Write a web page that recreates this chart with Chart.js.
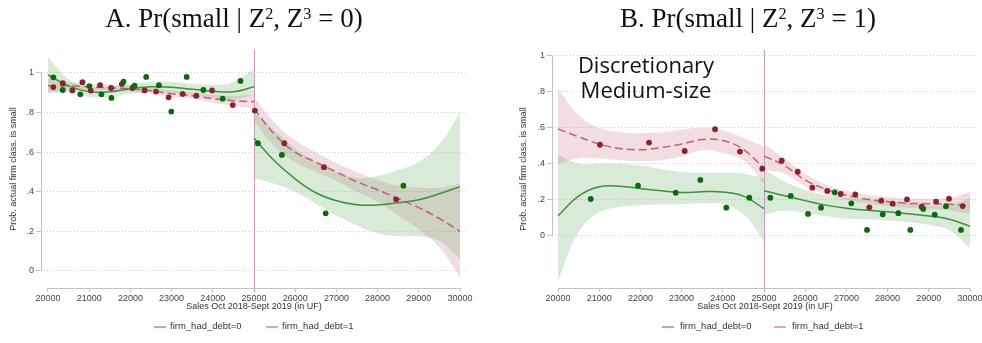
<!DOCTYPE html>
<html><head><meta charset="utf-8">
<script src="https://cdn.jsdelivr.net/npm/chart.js@4.4.1/dist/chart.umd.min.js"></script>
<style>
html,body{margin:0;padding:0;background:#fff;}
body{width:982px;height:343px;position:relative;overflow:hidden;font-family:"Liberation Sans",Arial,sans-serif;}
canvas{position:absolute;top:0;}
#cA{left:0;}
#cB{left:490px;}
.ttl{position:absolute;top:3px;height:30px;line-height:30px;font-family:"Liberation Serif","DejaVu Serif",serif;font-size:27px;color:#111;white-space:nowrap;transform:translateX(-50%);}
.ttl sup{font-size:0.6em;line-height:0;vertical-align:0.5em;}
.note{position:absolute;left:646px;top:52px;transform:translateX(-50%);font-family:"Open Sans","Noto Sans",sans-serif;font-size:22px;line-height:25px;color:#111;text-align:center;white-space:nowrap;}
.leg{position:absolute;top:320px;height:12px;line-height:12px;font-size:9.5px;color:#333;white-space:nowrap;}
.key{position:absolute;top:326px;height:2px;width:12px;}
</style>
</head>
<body>
<canvas id="cA" width="490" height="343"></canvas>
<canvas id="cB" width="492" height="343"></canvas>
<div class="ttl" style="left:234px">A. Pr(small | Z<sup>2</sup>, Z<sup>3</sup> = 0)</div>
<div class="ttl" style="left:748px">B. Pr(small | Z<sup>2</sup>, Z<sup>3</sup> = 1)</div>
<div class="note">Discretionary<br>Medium-size</div>
<div class="key" style="left:154px;background:#93c493"></div><div class="leg" style="left:170px">firm_had_debt=0</div>
<div class="key" style="left:266px;background:#deaab2"></div><div class="leg" style="left:282px">firm_had_debt=1</div>
<div class="key" style="left:662px;background:#93c493"></div><div class="leg" style="left:680px">firm_had_debt=0</div>
<div class="key" style="left:774px;background:#deaab2"></div><div class="leg" style="left:792px">firm_had_debt=1</div>
<script>
// ---------- shared axes ----------
const xTicks = [20000,21000,22000,23000,24000,25000,26000,27000,28000,29000,30000];
const yTicks = [0,0.2,0.4,0.6,0.8,1];
const yTickLabels = ['0','.2','.4','.6','.8','1'];
const cutoff = 25000;
const xTitle = 'Sales Oct 2018-Sept 2019 (in UF)';
const yTitle = 'Prob. actual firm class. is small';
const seriesNames = ['firm_had_debt=0','firm_had_debt=1'];

// fit grids (left and right of cutoff)
const gridL = [20000,20500,21000,21500,22000,22500,23000,23500,24000,24500,25000];
const gridR = [25000,25500,26000,26500,27000,27500,28000,28500,29000,29500,30000];

// ---------- Panel A: Z3 = 0 ----------
const aGreenX = [20129,20357,20786,21005,21297,21540,21832,22100,22384,22693,22993,23365,23771,24241,24672,25093,25676,26740,28626];
const aGreenY = [0.978,0.914,0.892,0.934,0.892,0.874,0.956,0.936,0.980,0.938,0.805,0.980,0.914,0.870,0.960,0.645,0.586,0.291,0.431];
const aRedX = [20129,20357,20591,20835,21038,21265,21533,21792,22051,22344,22620,22928,23268,23601,23983,24484,25020,25735,26699,28450];
const aRedY = [0.929,0.948,0.912,0.953,0.911,0.939,0.924,0.944,0.924,0.912,0.906,0.877,0.894,0.885,0.912,0.838,0.810,0.645,0.524,0.362];

const aGreenFitL = [0.99,0.935,0.905,0.905,0.92,0.93,0.928,0.918,0.908,0.905,0.93];
const aGreenUpL  = [1.08,0.97,0.93,0.93,0.945,0.955,0.955,0.945,0.94,0.955,1.02];
const aGreenLoL  = [0.90,0.90,0.88,0.88,0.895,0.905,0.90,0.89,0.875,0.865,0.89];
const aRedFitL = [0.935,0.935,0.93,0.925,0.92,0.91,0.895,0.885,0.87,0.86,0.855];
const aRedUpL  = [0.97,0.955,0.945,0.94,0.935,0.925,0.91,0.90,0.89,0.885,0.89];
const aRedLoL  = [0.90,0.915,0.915,0.91,0.905,0.895,0.88,0.87,0.85,0.835,0.82];

const aGreenFitR = [0.67,0.555,0.465,0.395,0.355,0.335,0.333,0.345,0.36,0.39,0.426];
const aGreenUpR  = [0.80,0.71,0.62,0.55,0.50,0.47,0.48,0.51,0.55,0.64,0.80];
const aGreenLoR  = [0.47,0.44,0.40,0.34,0.28,0.23,0.19,0.175,0.175,0.15,0.06];
const aRedFitR = [0.82,0.69,0.60,0.55,0.50,0.45,0.41,0.365,0.32,0.265,0.20];
const aRedUpR  = [0.88,0.75,0.66,0.60,0.545,0.50,0.46,0.43,0.42,0.42,0.44];
const aRedLoR  = [0.755,0.63,0.55,0.50,0.455,0.40,0.35,0.28,0.21,0.12,-0.03];

// ---------- Panel B: Z3 = 1 ----------
const bGreenX = [20794,21942,22857,23455,24085,24644,25153,25648,26068,26384,26716,27120,27500,27881,28260,28551,28866,29143,29417,29782];
const bGreenY = [0.204,0.278,0.239,0.310,0.156,0.211,0.211,0.221,0.121,0.156,0.241,0.180,0.032,0.119,0.125,0.032,0.149,0.117,0.164,0.032];
const bRedX = [21019,22209,23075,23811,24417,24959,25430,25818,26172,26536,26861,27216,27556,27847,28124,28471,28828,29175,29490,29823];
const bRedY = [0.506,0.518,0.471,0.592,0.468,0.373,0.417,0.356,0.267,0.249,0.232,0.230,0.158,0.195,0.178,0.202,0.161,0.189,0.206,0.165];

const bGreenFitL = [0.111,0.22,0.272,0.275,0.262,0.25,0.24,0.245,0.243,0.22,0.15];
const bGreenUpL  = [0.45,0.40,0.40,0.40,0.39,0.37,0.355,0.35,0.35,0.345,0.32];
const bGreenLoL  = [-0.25,0.02,0.13,0.16,0.17,0.175,0.175,0.18,0.175,0.12,-0.03];
const bRedFitL = [0.594,0.55,0.51,0.485,0.478,0.49,0.51,0.535,0.53,0.48,0.375];
const bRedUpL  = [0.82,0.67,0.60,0.575,0.57,0.575,0.59,0.60,0.585,0.545,0.495];
const bRedLoL  = [0.40,0.43,0.43,0.42,0.415,0.42,0.44,0.475,0.46,0.42,0.29];

const bGreenFitR = [0.25,0.222,0.195,0.17,0.152,0.142,0.133,0.122,0.11,0.092,0.052];
const bGreenUpR  = [0.37,0.30,0.255,0.225,0.21,0.20,0.19,0.18,0.17,0.17,0.21];
const bGreenLoR  = [0.115,0.14,0.125,0.11,0.095,0.09,0.085,0.075,0.06,0.03,-0.07];
const bRedFitR = [0.443,0.39,0.31,0.258,0.225,0.203,0.19,0.18,0.178,0.175,0.165];
const bRedUpR  = [0.51,0.43,0.345,0.285,0.25,0.228,0.215,0.205,0.205,0.21,0.245];
const bRedLoR  = [0.365,0.345,0.275,0.23,0.20,0.18,0.165,0.155,0.15,0.14,0.12];

// ---------- styles ----------
const C = {
  gPt:'#0b6a0b', rPt:'#8c2232',
  gLine:'#3f8f3f', rLine:'#b9646f',
  gBand:'rgba(80,160,80,0.22)', rBand:'rgba(190,90,110,0.20)',
  axis:'#c2c2c2', grid:'#d2d2d2', cut:'#e08ad6', tick:'#444'
};
const pts = (xs, ys) => xs.map((x,i)=>({x:x, y:ys[i]}));

function band(xs, up, lo, color){
  return [
    {data:pts(xs,up), borderWidth:0, borderColor:'rgba(0,0,0,0)', pointRadius:0, tension:0.4, fill:'+1', backgroundColor:color, order:3},
    {data:pts(xs,lo), borderWidth:0, borderColor:'rgba(0,0,0,0)', pointRadius:0, tension:0.4, fill:false, order:3}
  ];
}
function fit(xs, ys, color, dash){
  return {data:pts(xs,ys), borderColor:color, borderWidth:1.5, borderDash:dash||[], pointRadius:0, tension:0.4, fill:false, order:2};
}
function scatter(xs, ys, color, name){
  return {label:name, data:pts(xs,ys), showLine:false, pointRadius:2.9, pointBorderWidth:0, pointBackgroundColor:color, backgroundColor:color, order:1};
}

function drawCut(chart){
  const {ctx, chartArea:a, scales:{x}} = chart;
  ctx.save();
  ctx.setLineDash([]);
  ctx.lineWidth = 1;
  ctx.globalAlpha = 1;
  ctx.strokeStyle = C.cut;
  const cx = Math.round(x.getPixelForValue(cutoff)) + 0.5;
  ctx.beginPath(); ctx.moveTo(cx, a.top); ctx.lineTo(cx, a.bottom + 4); ctx.stroke();
  ctx.restore();
}
const frame = {
  id:'frame',
  beforeDatasetsDraw(chart){
    const {ctx, chartArea:a, scales:{x, y}} = chart;
    ctx.save();
    ctx.setLineDash([]);
    ctx.lineWidth = 1;
    ctx.strokeStyle = C.axis;
    const ax = Math.round(a.left) + 0.5;
    ctx.beginPath(); ctx.moveTo(ax, y.getPixelForValue(1)); ctx.lineTo(ax, y.getPixelForValue(0)); ctx.stroke();
    const ay = Math.round(a.bottom) + 0.5;
    ctx.beginPath(); ctx.moveTo(x.getPixelForValue(xTicks[0]), ay); ctx.lineTo(x.getPixelForValue(xTicks[xTicks.length-1]), ay); ctx.stroke();
    ctx.restore();
  },
  afterDatasetDraw(chart, args){
    // cutoff line sits just above the confidence bands, below fits and points
    if (args.index === 6) drawCut(chart);
  }
};

function makeChart(id, p){
  const datasets = [
    scatter(p.gx, p.gy, C.gPt, seriesNames[0]),
    scatter(p.rx, p.ry, C.rPt, seriesNames[1]),
    fit(gridL, p.gFitL, C.gLine), fit(gridR, p.gFitR, C.gLine),
    fit(gridL, p.rFitL, C.rLine, [8,4]), fit(gridR, p.rFitR, C.rLine, [8,4]),
    ...band(gridL, p.gUpL, p.gLoL, C.gBand), ...band(gridR, p.gUpR, p.gLoR, C.gBand),
    ...band(gridL, p.rUpL, p.rLoL, C.rBand), ...band(gridR, p.rUpR, p.rLoR, C.rBand)
  ];
  return new Chart(document.getElementById(id), {
    type:'line',
    data:{datasets},
    options:{
      responsive:false, animation:false, events:[],
      layout:{padding:{top:50, left:0, right:p.padRight, bottom:31}},
      plugins:{legend:{display:false}, tooltip:{enabled:false}},
      scales:{
        x:{type:'linear', min:p.xmin, max:p.xmax,
           afterBuildTicks:s=>{s.ticks = xTicks.map(v=>({value:v}));},
           afterFit:s=>{s.height = 24; s.paddingLeft = 0; s.paddingRight = 0;},
           grid:{drawOnChartArea:false, drawTicks:true, tickLength:4, tickColor:C.axis},
           border:{display:false},
           ticks:{autoSkip:false, maxRotation:0, padding:1, color:C.tick, font:{family:'Liberation Sans', size:9}, callback:v=>String(v)},
           title:{display:true, text:xTitle, color:'#333', padding:0, font:{family:'Liberation Sans', size:9}}},
        y:{type:'linear', min:p.ymin, max:p.ymax,
           afterBuildTicks:s=>{s.ticks = yTicks.map(v=>({value:v}));},
           afterFit:s=>{s.width = p.yw; s.paddingTop = 0; s.paddingBottom = 0;},
           grid:{color:C.grid, lineWidth:1, tickLength:5, tickColor:C.axis, tickBorderDash:[]},
           border:{display:false, dash:[1,2]},
           ticks:{padding:2, color:C.tick, font:{family:'Liberation Sans', size:9}, callback:v=>{const i = yTicks.findIndex(t=>Math.abs(t-v)<1e-9); return i<0?'':yTickLabels[i];}},
           title:{display:true, text:yTitle, color:'#333', padding:{top:p.yTitlePad}, font:{family:'Liberation Sans', size:9}}}
      }
    },
    plugins:[frame]
  });
}

makeChart('cA', {
  gx:aGreenX, gy:aGreenY, rx:aRedX, ry:aRedY,
  gFitL:aGreenFitL, gUpL:aGreenUpL, gLoL:aGreenLoL, rFitL:aRedFitL, rUpL:aRedUpL, rLoL:aRedLoL,
  gFitR:aGreenFitR, gUpR:aGreenUpR, gLoR:aGreenLoR, rFitR:aRedFitR, rUpR:aRedUpR, rLoR:aRedLoR,
  xmin:19830.1, xmax:30169.9, ymin:-0.086, ymax:1.116, yw:41, padRight:23, yTitlePad:8
});
makeChart('cB', {
  gx:bGreenX, gy:bGreenY, rx:bRedX, ry:bRedY,
  gFitL:bGreenFitL, gUpL:bGreenUpL, gLoL:bGreenLoL, rFitL:bRedFitL, rUpL:bRedUpL, rLoL:bRedLoL,
  gFitR:bGreenFitR, gUpR:bGreenUpR, gLoR:bGreenLoR, rFitR:bRedFitR, rUpR:bRedUpR, rLoR:bRedLoR,
  xmin:19854, xmax:30194, ymin:-0.291, ymax:1.033, yw:62, padRight:4, yTitlePad:28
});
</script>
</body></html>
